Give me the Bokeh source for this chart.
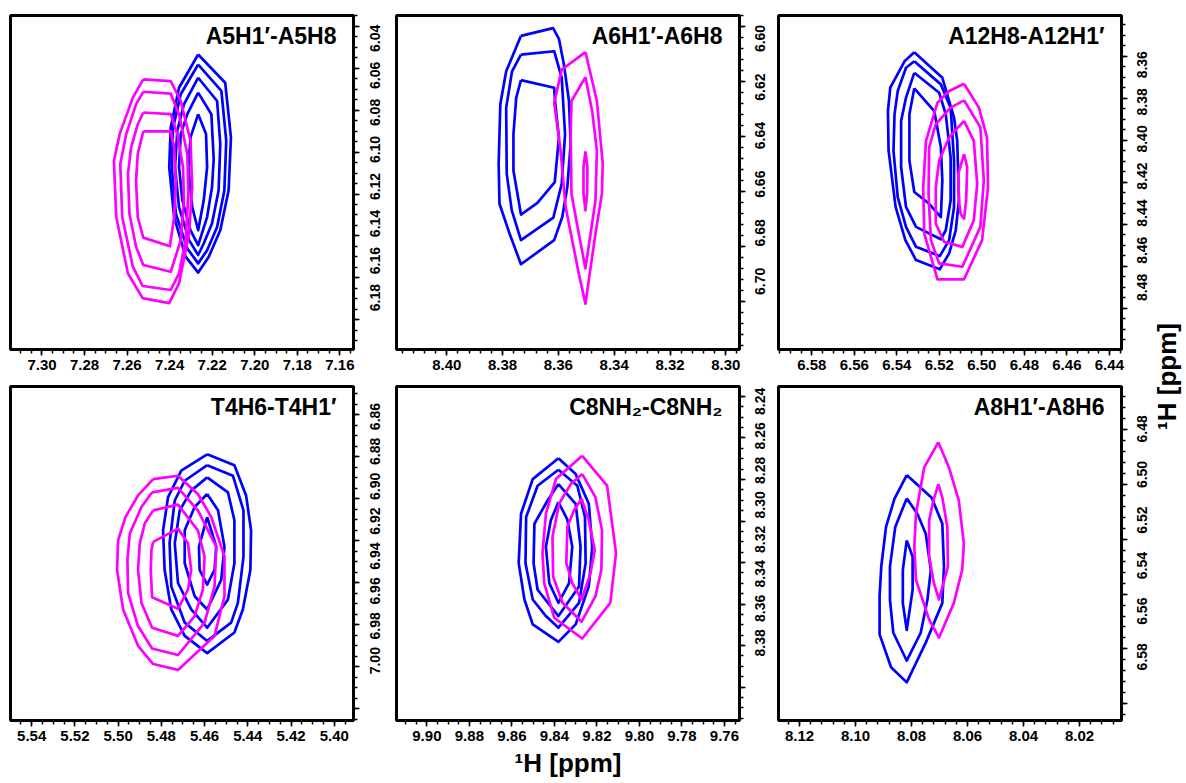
import math
from bokeh.plotting import figure
from bokeh.models import Range1d, SingleIntervalTicker, PrintfTickFormatter, Label, CustomJSTickFormatter
from bokeh.core.properties import value
from bokeh.layouts import gridplot, row
from bokeh.embed import file_html
from bokeh.resources import INLINE

FONT = "Liberation Sans"
BLUE = "#0000ff"
MAGENTA = "#ff00ff"

# ---------------- data (ppm) ----------------
titles = ["A5H1\u2032-A5H8", "A6H1\u2032-A6H8", "A12H8-A12H1\u2032",
          "T4H6-T4H1\u2032", "C8NH\u2082-C8NH\u2082", "A8H1\u2032-A8H6"]

# x: (left, right) ; y: (top, bottom)
x_limits = [(7.3148, 7.1536), (8.4180, 8.2951), (6.5957, 6.4343),
            (5.5498, 5.3911), (9.9143, 9.7529), (8.1275, 8.0050)]
y_limits = [(6.0348, 6.1942), (6.5960, 6.7175), (8.3406, 8.4997),
            (6.8466, 7.0057), (8.2352, 8.3961), (6.4643, 6.5861)]

# y tick labels of each panel (right axis)
y_tick_labels = [
    ["6.04", "6.06", "6.08", "6.10", "6.12", "6.14", "6.16", "6.18"],
    ["6.60", "6.62", "6.64", "6.66", "6.68", "6.70"],
    ["8.36", "8.38", "8.40", "8.42", "8.44", "8.46", "8.48"],
    ["6.86", "6.88", "6.90", "6.92", "6.94", "6.96", "6.98", "7.00"],
    ["8.24", "8.26", "8.28", "8.30", "8.32", "8.34", "8.36", "8.38"],
    ["6.48", "6.50", "6.52", "6.54", "6.56", "6.58"],
]

A5_blue = [
    [(7.2266, 6.0534), (7.2139, 6.0669), (7.2112, 6.0930), (7.2123, 6.1183), (7.2162, 6.1373), (7.2216, 6.1499),
     (7.2266, 6.1575), (7.2325, 6.1499), (7.2379, 6.1310), (7.2402, 6.1072), (7.2395, 6.0883), (7.2356, 6.0693)],
    [(7.2266, 6.0582), (7.2157, 6.0708), (7.2134, 6.0946), (7.2143, 6.1183), (7.2177, 6.1357), (7.2224, 6.1468),
     (7.2266, 6.1531), (7.2317, 6.1460), (7.2371, 6.1294), (7.2390, 6.1072), (7.2384, 6.0883), (7.2348, 6.0724)],
    [(7.2266, 6.0645), (7.2177, 6.0756), (7.2162, 6.0962), (7.2170, 6.1183), (7.2201, 6.1341), (7.2240, 6.1436),
     (7.2266, 6.1491), (7.2309, 6.1420), (7.2356, 6.1262), (7.2375, 6.1072), (7.2364, 6.0898), (7.2333, 6.0772)],
    [(7.2266, 6.0716), (7.2204, 6.0819), (7.2193, 6.1033), (7.2201, 6.1167), (7.2224, 6.1310), (7.2266, 6.1444),
     (7.2302, 6.1373), (7.2340, 6.1231), (7.2356, 6.1072), (7.2348, 6.0914), (7.2317, 6.0819)],
    [(7.2266, 6.0819), (7.2229, 6.0914), (7.2224, 6.1072), (7.2240, 6.1231), (7.2266, 6.1373), (7.2294, 6.1262),
     (7.2312, 6.1072), (7.2302, 6.0930)],
]
A5_magenta = [
    [(7.2524, 6.0653), (7.2395, 6.0661), (7.2348, 6.0756), (7.2302, 6.0946), (7.2294, 6.1167), (7.2309, 6.1389),
     (7.2356, 6.1626), (7.2402, 6.1721), (7.2527, 6.1697), (7.2596, 6.1579), (7.2651, 6.1310), (7.2662, 6.1041),
     (7.2635, 6.0914), (7.2573, 6.0740)],
    [(7.2524, 6.0712), (7.2395, 6.0721), (7.2356, 6.0819), (7.2317, 6.1009), (7.2312, 6.1199), (7.2325, 6.1420),
     (7.2356, 6.1579), (7.2395, 6.1658), (7.2527, 6.1639), (7.2573, 6.1547), (7.2623, 6.1310), (7.2632, 6.1057),
     (7.2604, 6.0914), (7.2558, 6.0772)],
    [(7.2524, 6.0811), (7.2395, 6.0819), (7.2364, 6.0914), (7.2337, 6.1072), (7.2333, 6.1231), (7.2348, 6.1420),
     (7.2395, 6.1571), (7.2524, 6.1539), (7.2558, 6.1452), (7.2589, 6.1294), (7.2596, 6.1104), (7.2581, 6.0977),
     (7.2550, 6.0867)],
    [(7.2524, 6.0901), (7.2395, 6.0901), (7.2379, 6.0977), (7.2371, 6.1151), (7.2379, 6.1310), (7.2399, 6.1449),
     (7.2524, 6.1408), (7.2550, 6.1310), (7.2558, 6.1136), (7.2550, 6.1009)],
]

A6_blue = [
    [(8.3734, 6.6034), (8.3619, 6.6006), (8.3598, 6.6045), (8.3580, 6.6139), (8.3562, 6.6271), (8.3556, 6.6428),
     (8.3568, 6.6584), (8.3586, 6.6693), (8.3615, 6.6777), (8.3734, 6.6865), (8.3775, 6.6753), (8.3811, 6.6645),
     (8.3814, 6.6500), (8.3808, 6.6283), (8.3787, 6.6163)],
    [(8.3734, 6.6102), (8.3615, 6.6090), (8.3588, 6.6187), (8.3576, 6.6392), (8.3588, 6.6572), (8.3618, 6.6695),
     (8.3734, 6.6777), (8.3767, 6.6669), (8.3785, 6.6536), (8.3787, 6.6295), (8.3766, 6.6163)],
    [(8.3734, 6.6195), (8.3615, 6.6223), (8.3612, 6.6271), (8.3598, 6.6404), (8.3613, 6.6566), (8.3675, 6.6642),
     (8.3734, 6.6684), (8.3761, 6.6524), (8.3761, 6.6392), (8.3751, 6.6259)],
]
A6_magenta = [
    [(8.3503, 6.6093), (8.3462, 6.6271), (8.3441, 6.6500), (8.3444, 6.6608), (8.3467, 6.6753), (8.3503, 6.7008),
     (8.3527, 6.6898), (8.3574, 6.6657), (8.3592, 6.6452), (8.3615, 6.6277), (8.3588, 6.6157)],
    [(8.3503, 6.6184), (8.3479, 6.6307), (8.3462, 6.6452), (8.3467, 6.6633), (8.3503, 6.6880), (8.3527, 6.6753),
     (8.3553, 6.6608), (8.3556, 6.6392), (8.3553, 6.6271)],
    [(8.3503, 6.6454), (8.3496, 6.6512), (8.3497, 6.6608), (8.3503, 6.6669), (8.3510, 6.6608), (8.3510, 6.6512)],
]

A12_blue = [
    [(6.5318, 8.3581), (6.5186, 8.3703), (6.5131, 8.3892), (6.5116, 8.4003), (6.5108, 8.4287), (6.5123, 8.4429),
     (6.5154, 8.4539), (6.5198, 8.4615), (6.5310, 8.4571), (6.5360, 8.4476), (6.5406, 8.4318), (6.5439, 8.4050),
     (6.5442, 8.3861), (6.5431, 8.3750), (6.5364, 8.3624)],
    [(6.5318, 8.3624), (6.5193, 8.3734), (6.5147, 8.3845), (6.5131, 8.4097), (6.5131, 8.4318), (6.5154, 8.4476),
     (6.5198, 8.4552), (6.5310, 8.4508), (6.5357, 8.4413), (6.5396, 8.4271), (6.5416, 8.4050), (6.5411, 8.3876),
     (6.5396, 8.3766), (6.5357, 8.3655)],
    [(6.5318, 8.3679), (6.5201, 8.3774), (6.5170, 8.3876), (6.5147, 8.4082), (6.5147, 8.4287), (6.5170, 8.4429),
     (6.5193, 8.4472), (6.5310, 8.4413), (6.5357, 8.4318), (6.5380, 8.4129), (6.5380, 8.3908), (6.5357, 8.3797)],
    [(6.5318, 8.3753), (6.5224, 8.3861), (6.5193, 8.4034), (6.5186, 8.4192), (6.5193, 8.4366), (6.5248, 8.4303),
     (6.5318, 8.4247), (6.5341, 8.4097), (6.5341, 8.3876)],
]
A12_magenta = [
    [(6.5084, 8.3731), (6.5014, 8.3845), (6.4976, 8.3987), (6.4971, 8.4224), (6.4999, 8.4476), (6.5084, 8.4663),
     (6.5209, 8.4663), (6.5271, 8.4445), (6.5276, 8.4224), (6.5263, 8.4003), (6.5209, 8.3821), (6.5154, 8.3766)],
    [(6.5084, 8.3810), (6.5007, 8.3939), (6.4991, 8.4192), (6.5007, 8.4413), (6.5092, 8.4603), (6.5201, 8.4587),
     (6.5240, 8.4476), (6.5251, 8.4255), (6.5248, 8.4034), (6.5217, 8.3924), (6.5147, 8.3845)],
    [(6.5084, 8.3908), (6.5038, 8.4003), (6.5022, 8.4208), (6.5038, 8.4382), (6.5092, 8.4508), (6.5178, 8.4484),
     (6.5217, 8.4397), (6.5217, 8.4224), (6.5201, 8.4097), (6.5154, 8.3987)],
    [(6.5084, 8.4066), (6.5069, 8.4129), (6.5074, 8.4287), (6.5084, 8.4374), (6.5100, 8.4350), (6.5108, 8.4287),
     (6.5111, 8.4161)],
]

T4_blue = [
    [(5.4588, 6.8789), (5.4462, 6.8841), (5.4408, 6.8985), (5.4385, 6.9151), (5.4388, 6.9339), (5.4423, 6.9528),
     (5.4462, 6.9638), (5.4588, 6.9736), (5.4692, 6.9654), (5.4754, 6.9528), (5.4785, 6.9339), (5.4792, 6.9151),
     (5.4769, 6.8993), (5.4708, 6.8867)],
    [(5.4588, 6.8841), (5.4469, 6.8891), (5.4420, 6.9056), (5.4420, 6.9276), (5.4446, 6.9497), (5.4477, 6.9591),
     (5.4588, 6.9678), (5.4692, 6.9591), (5.4754, 6.9418), (5.4762, 6.9212), (5.4738, 6.9009), (5.4692, 6.8915)],
    [(5.4588, 6.8899), (5.4492, 6.8970), (5.4462, 6.9103), (5.4462, 6.9308), (5.4492, 6.9481), (5.4588, 6.9615),
     (5.4662, 6.9528), (5.4723, 6.9402), (5.4738, 6.9213), (5.4715, 6.9056), (5.4662, 6.8962)],
    [(5.4588, 6.8978), (5.4538, 6.9056), (5.4508, 6.9229), (5.4523, 6.9387), (5.4588, 6.9528), (5.4646, 6.9465),
     (5.4692, 6.9308), (5.4692, 6.9151), (5.4646, 6.9040)],
    [(5.4588, 6.9088), (5.4546, 6.9229), (5.4554, 6.9339), (5.4588, 6.9410), (5.4623, 6.9339), (5.4626, 6.9229)],
]
T4_magenta = [
    [(5.4838, 6.8907), (5.4723, 6.8891), (5.4631, 6.8978), (5.4569, 6.9088), (5.4508, 6.9276), (5.4508, 6.9465),
     (5.4554, 6.9654), (5.4723, 6.9816), (5.4838, 6.9788), (5.4908, 6.9701), (5.4977, 6.9528), (5.5005, 6.9339),
     (5.5000, 6.9198), (5.4966, 6.9088), (5.4908, 6.8985)],
    [(5.4843, 6.8970), (5.4723, 6.8949), (5.4631, 6.9056), (5.4546, 6.9229), (5.4554, 6.9418), (5.4600, 6.9591),
     (5.4723, 6.9745), (5.4843, 6.9714), (5.4908, 6.9607), (5.4954, 6.9449), (5.4957, 6.9292), (5.4946, 6.9166),
     (5.4892, 6.9040)],
    [(5.4838, 6.9056), (5.4723, 6.9029), (5.4631, 6.9151), (5.4600, 6.9276), (5.4608, 6.9434), (5.4646, 6.9560),
     (5.4723, 6.9654), (5.4843, 6.9615), (5.4892, 6.9497), (5.4908, 6.9339), (5.4900, 6.9213), (5.4877, 6.9119)],
    [(5.4838, 6.9206), (5.4723, 6.9143), (5.4677, 6.9213), (5.4662, 6.9339), (5.4677, 6.9434), (5.4723, 6.9525),
     (5.4843, 6.9470), (5.4849, 6.9339), (5.4846, 6.9245)],
]

C8_blue = [
    [(9.8381, 8.2698), (9.8300, 8.2774), (9.8238, 8.2917), (9.8222, 8.3124), (9.8238, 8.3315), (9.8300, 8.3498),
     (9.8381, 8.3582), (9.8502, 8.3498), (9.8541, 8.3378), (9.8568, 8.3203), (9.8557, 8.2965), (9.8502, 8.2798)],
    [(9.8381, 8.2753), (9.8292, 8.2830), (9.8256, 8.2981), (9.8253, 8.3203), (9.8284, 8.3394), (9.8381, 8.3514),
     (9.8440, 8.3458), (9.8502, 8.3378), (9.8536, 8.3203), (9.8533, 8.2981), (9.8479, 8.2830)],
    [(9.8381, 8.2822), (9.8300, 8.2917), (9.8277, 8.3124), (9.8284, 8.3315), (9.8381, 8.3458), (9.8479, 8.3331),
     (9.8498, 8.3203), (9.8494, 8.3013), (9.8432, 8.2901)],
    [(9.8381, 8.2909), (9.8339, 8.2993), (9.8316, 8.3124), (9.8331, 8.3299), (9.8381, 8.3394), (9.8424, 8.3299),
     (9.8440, 8.3124), (9.8417, 8.2997)],
]
C8_magenta = [
    [(9.8269, 8.2686), (9.8152, 8.2830), (9.8110, 8.3156), (9.8137, 8.3394), (9.8269, 8.3566), (9.8401, 8.3466),
     (9.8448, 8.3299), (9.8456, 8.3156), (9.8440, 8.2965), (9.8393, 8.2798)],
    [(9.8269, 8.2774), (9.8207, 8.2885), (9.8176, 8.3044), (9.8179, 8.3235), (9.8207, 8.3363), (9.8272, 8.3485),
     (9.8362, 8.3394), (9.8406, 8.3267), (9.8409, 8.3076), (9.8378, 8.2917), (9.8323, 8.2822)],
    [(9.8272, 8.2893), (9.8238, 8.2997), (9.8210, 8.3140), (9.8230, 8.3251), (9.8272, 8.3378), (9.8316, 8.3299),
     (9.8344, 8.3203), (9.8339, 8.3028), (9.8308, 8.2949)],
]

A8_blue = [
    [(8.0817, 6.4966), (8.0728, 6.5049), (8.0690, 6.5143), (8.0684, 6.5300), (8.0690, 6.5433), (8.0749, 6.5577),
     (8.0817, 6.5722), (8.0873, 6.5667), (8.0914, 6.5547), (8.0914, 6.5408), (8.0908, 6.5300), (8.0891, 6.5155),
     (8.0861, 6.5053)],
    [(8.0817, 6.5051), (8.0779, 6.5107), (8.0749, 6.5180), (8.0731, 6.5312), (8.0743, 6.5420), (8.0767, 6.5541),
     (8.0817, 6.5643), (8.0865, 6.5541), (8.0877, 6.5420), (8.0877, 6.5300), (8.0858, 6.5155)],
    [(8.0817, 6.5204), (8.0796, 6.5264), (8.0796, 6.5384), (8.0817, 6.5531), (8.0831, 6.5433), (8.0831, 6.5312)],
]
A8_magenta = [
    [(8.0704, 6.4846), (8.0666, 6.4939), (8.0631, 6.5059), (8.0613, 6.5216), (8.0619, 6.5312), (8.0649, 6.5433),
     (8.0702, 6.5559), (8.0737, 6.5493), (8.0784, 6.5348), (8.0790, 6.5228), (8.0784, 6.5107), (8.0755, 6.4939)],
    [(8.0704, 6.4999), (8.0690, 6.5047), (8.0672, 6.5155), (8.0670, 6.5300), (8.0702, 6.5420), (8.0720, 6.5360),
     (8.0737, 6.5264), (8.0737, 6.5131), (8.0722, 6.5059)],
]

blue_sets = [A5_blue, A6_blue, A12_blue, T4_blue, C8_blue, A8_blue]
magenta_sets = [A5_magenta, A6_magenta, A12_magenta, T4_magenta, C8_magenta, A8_magenta]
tick_interval = 0.02
x_minor = [4, 5, 4, 4, 4, 5]
y_minor = [4, 5, 4, 4, 4, 5]
axis_title = "\u00b9H [ppm]"

# ---------------- drawing ----------------
FW, FH = 343, 334
left_borders = [10, 4, 4]
label_widths = [31, 27, 22]       # strip holding the rotated y tick labels
label_centres = [13, 12, 12]
top_borders = [15, 8]
bottom_borders = [29, 60]


def closed(contours):
    xs = [[pt[0] for pt in c] + [c[0][0]] for c in contours]
    ys = [[pt[1] for pt in c] + [c[0][1]] for c in contours]
    return xs, ys


def style_axis(ax, minor):
    ax.ticker = SingleIntervalTicker(interval=tick_interval, num_minor_ticks=minor)
    ax.formatter = PrintfTickFormatter(format="%.2f")
    ax.major_label_text_font = FONT
    ax.major_label_text_font_size = "15px"
    ax.major_label_text_font_style = "bold"
    ax.major_label_text_color = "black"
    ax.axis_line_color = "black"
    ax.axis_line_width = 3
    ax.major_tick_in = 0
    ax.major_tick_out = 6
    ax.minor_tick_in = 0
    ax.minor_tick_out = 4
    ax.major_tick_line_width = 1.5
    ax.minor_tick_line_width = 1.5
    ax.major_tick_line_color = "black"
    ax.minor_tick_line_color = "black"


rows = []
for r in range(2):
    row_figs = []
    for c in range(3):
        i = r * 3 + c
        xl, xr = x_limits[i]
        yt, yb = y_limits[i]
        tb, bb = top_borders[r], bottom_borders[r]
        p = figure(frame_width=FW, frame_height=FH,
                   x_range=Range1d(xl, xr), y_range=Range1d(yb, yt),
                   y_axis_location="right", output_backend="svg", toolbar_location=None,
                   min_border_left=left_borders[c], min_border_right=8,
                   min_border_top=tb, min_border_bottom=bb)
        p.xgrid.visible = False
        p.ygrid.visible = False
        p.outline_line_color = "black"
        p.outline_line_width = 3
        p.outline_line_alpha = 1.0

        style_axis(p.xaxis[0], x_minor[i])
        style_axis(p.yaxis[0], y_minor[i])
        p.xaxis[0].major_label_standoff = 4
        p.yaxis[0].formatter = CustomJSTickFormatter(code="return ''")
        p.yaxis[0].major_label_standoff = 0
        p.yaxis[0].major_label_text_font_size = "1px"

        bx, by = closed(blue_sets[i])
        mx, my = closed(magenta_sets[i])
        p.multi_line(bx, by, line_color=BLUE, line_width=2.7, line_join="round")
        p.multi_line(mx, my, line_color=MAGENTA, line_width=2.7, line_join="round")

        p.add_layout(Label(x=xr, y=yt, x_offset=-17, y_offset=-7, text=titles[i],
                           text_align="right", text_baseline="top", text_font=FONT,
                           text_font_size="23px", text_font_style="bold", text_color="black"))
        if i == 4:
            p.xaxis[0].axis_label = axis_title
            p.xaxis[0].axis_label_text_font = FONT
            p.xaxis[0].axis_label_text_font_size = "26px"
            p.xaxis[0].axis_label_text_font_style = "bold"
            p.xaxis[0].axis_label_text_color = "black"
            p.xaxis[0].axis_label_standoff = 4
        row_figs.append(p)

        # strip with the rotated y tick labels, sharing the panel's screen scale
        ppp = (yb - yt) / FH
        total = tb + FH + bb
        lw = label_widths[c]
        q = figure(width=lw, height=total, x_range=Range1d(0, lw),
                   y_range=Range1d(yb + bb * ppp, yt - tb * ppp),
                   output_backend="svg", toolbar_location=None, min_border=0)
        q.axis.visible = False
        q.grid.visible = False
        q.outline_line_color = None
        labels = y_tick_labels[i]
        q.text(x=[label_centres[c]] * len(labels), y=[float(t) for t in labels], text=labels,
               angle=math.pi / 2, text_align="center", text_baseline="middle",
               text_font=value(FONT), text_font_size="14px", text_font_style="bold",
               text_color="black")
        row_figs.append(q)
    rows.append(row_figs)

grid = gridplot(rows, toolbar_location=None)

total_h = (top_borders[0] + FH + bottom_borders[0]) + (top_borders[1] + FH + bottom_borders[1])
lab = figure(width=34, height=total_h, x_range=Range1d(0, 34), y_range=Range1d(0, total_h),
             output_backend="svg", toolbar_location=None, min_border=0)
lab.axis.visible = False
lab.grid.visible = False
lab.outline_line_color = None
lab.add_layout(Label(x=15, y=total_h - 376, angle=math.pi / 2, text=axis_title,
                     text_align="center", text_baseline="middle", text_font=FONT,
                     text_font_size="26px", text_font_style="bold", text_color="black"))

layout = row(grid, lab)
open("out.html", "w").write(file_html(layout, INLINE))
